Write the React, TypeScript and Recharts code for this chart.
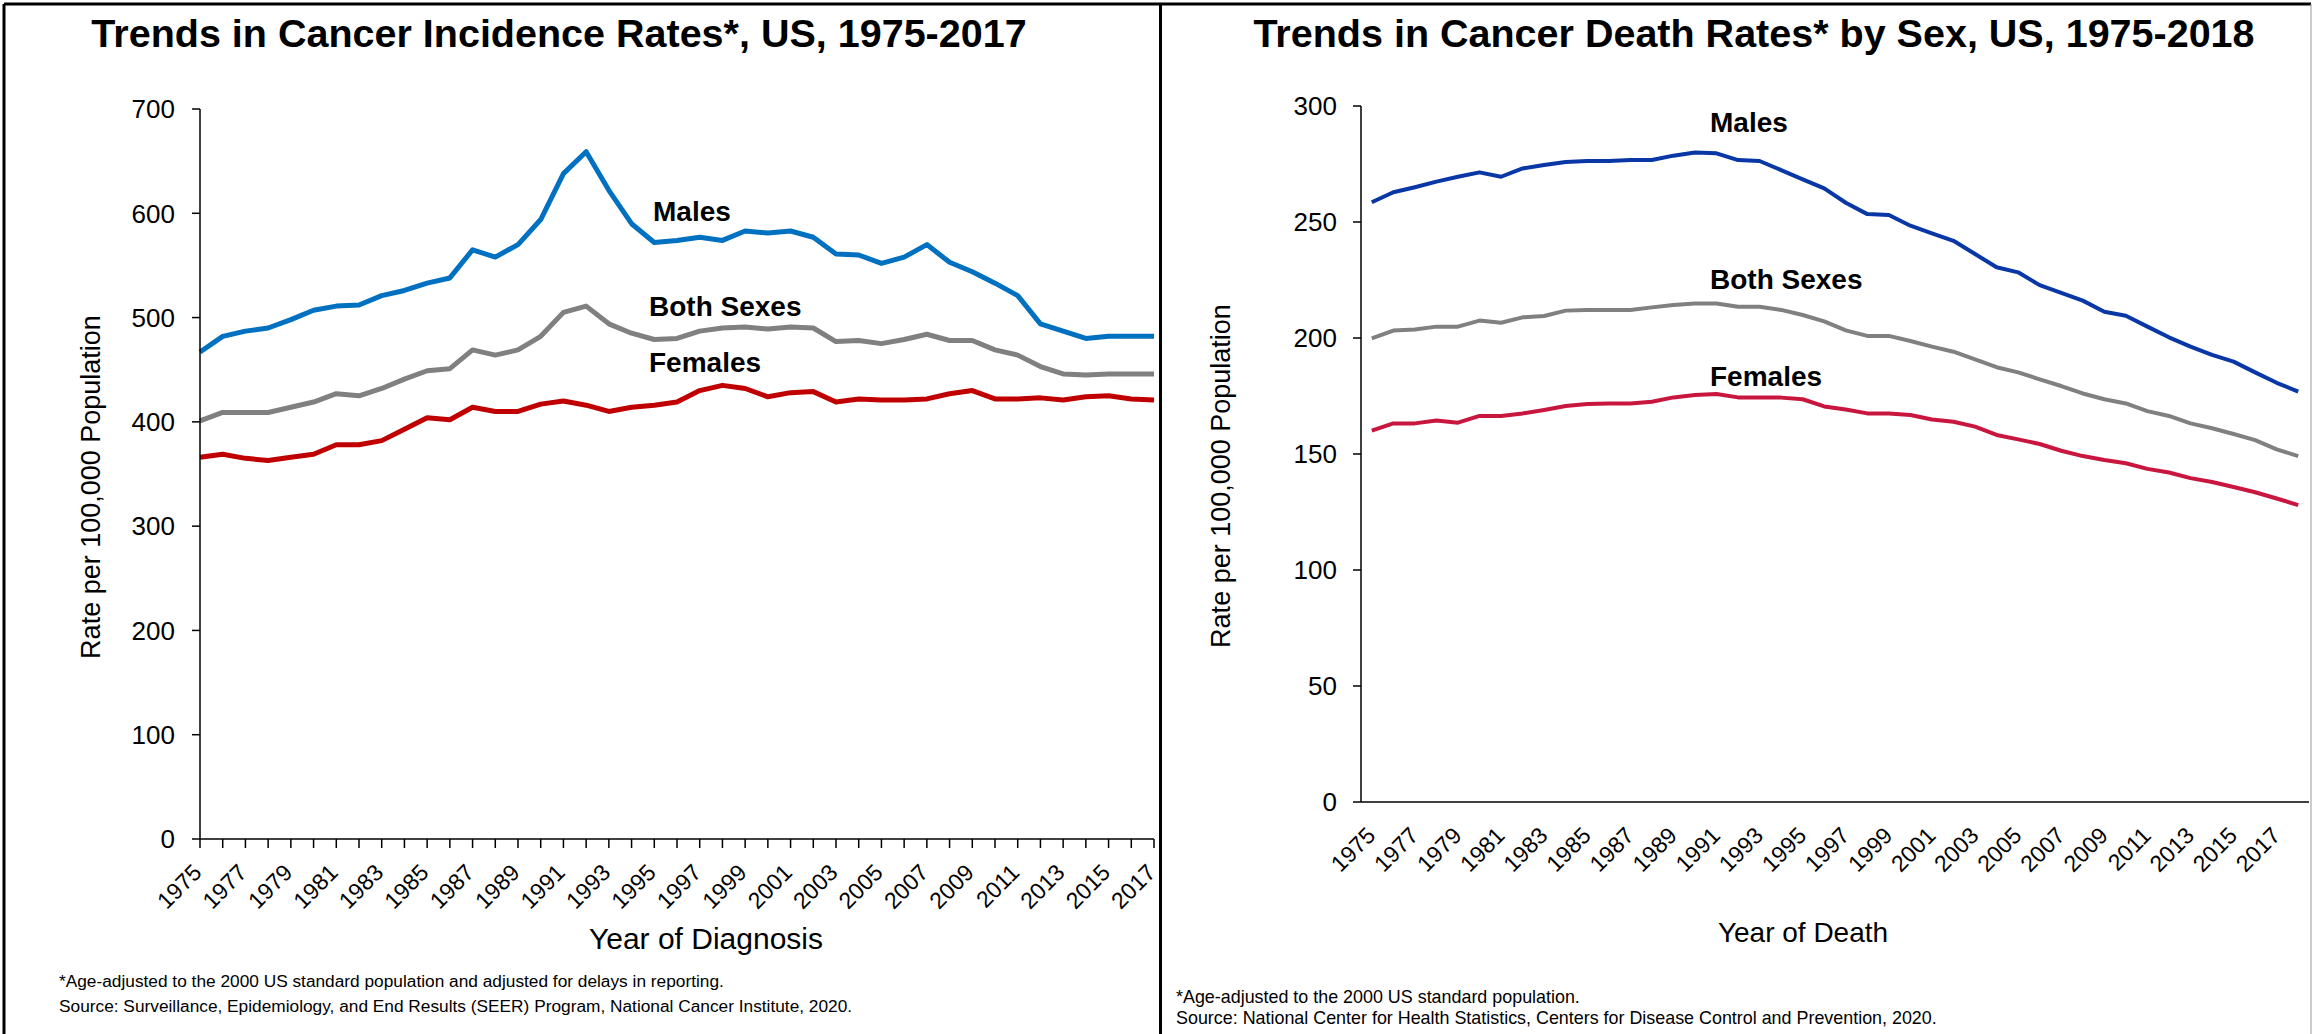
import React from 'react';
import { LineChart, Line, XAxis, YAxis } from 'recharts';

const FONT = "'Liberation Sans', Arial, Helvetica, sans-serif";

// incidence, 1975-2017
const incYears = [
  1975, 1976, 1977, 1978, 1979, 1980, 1981, 1982, 1983, 1984, 1985, 1986, 1987, 1988, 1989,
  1990, 1991, 1992, 1993, 1994, 1995, 1996, 1997, 1998, 1999, 2000, 2001, 2002, 2003, 2004,
  2005, 2006, 2007, 2008, 2009, 2010, 2011, 2012, 2013, 2014, 2015, 2016, 2017,
];
const incMales = [
  467, 482, 487, 490, 498, 507, 511, 512, 521, 526, 533, 538, 565, 558, 570,
  594, 638, 659, 622, 590, 572, 574, 577, 574, 583, 581, 583, 577, 561, 560,
  552, 558, 570, 553, 544, 533, 521, 494, 487, 480, 482, 482, 482,
];
const incBoth = [
  401, 409, 409, 409, 414, 419, 427, 425, 432, 441, 449, 451, 469, 464, 469,
  482, 505, 511, 494, 485, 479, 480, 487, 490, 491, 489, 491, 490, 477, 478,
  475, 479, 484, 478, 478, 469, 464, 453, 446, 445, 446, 446, 446,
];
const incFemales = [
  366, 369, 365, 363, 366, 369, 378, 378, 382, 393, 404, 402, 414, 410, 410,
  417, 420, 416, 410, 414, 416, 419, 430, 435, 432, 424, 428, 429, 419, 422,
  421, 421, 422, 427, 430, 422, 422, 423, 421, 424, 425, 422, 421,
];
const incYTicks = [0, 100, 200, 300, 400, 500, 600, 700];
const incXLabels = [
  1975, 1977, 1979, 1981, 1983, 1985, 1987, 1989, 1991, 1993, 1995,
  1997, 1999, 2001, 2003, 2005, 2007, 2009, 2011, 2013, 2015, 2017,
];

// mortality, 1975-2018
const deathYears = [
  1975, 1976, 1977, 1978, 1979, 1980, 1981, 1982, 1983, 1984, 1985, 1986, 1987, 1988, 1989,
  1990, 1991, 1992, 1993, 1994, 1995, 1996, 1997, 1998, 1999, 2000, 2001, 2002, 2003, 2004,
  2005, 2006, 2007, 2008, 2009, 2010, 2011, 2012, 2013, 2014, 2015, 2016, 2017, 2018,
];
const deathMales = [
  258.5, 262.8, 265, 267.4, 269.5, 271.4, 269.5, 273.1, 274.6, 275.9, 276.3, 276.3, 276.7, 276.7, 278.6,
  280, 279.6, 276.7, 276.3, 272.4, 268.4, 264.5, 258.3, 253.4, 253, 248.4, 245.1, 241.9, 236.2, 230.5,
  228.3, 222.8, 219.5, 216.1, 211.3, 209.6, 204.9, 200.3, 196.3, 192.7, 189.8, 185.2, 180.7, 176.9,
];
const deathBoth = [
  199.8, 203.2, 203.7, 204.9, 204.9, 207.5, 206.6, 208.9, 209.5, 211.8, 212.1, 212.1, 212.1, 213.2, 214.2,
  214.9, 214.9, 213.5, 213.5, 212.1, 209.9, 207.2, 203.3, 200.9, 200.9, 198.7, 196.3, 194.1, 190.8, 187.4,
  185.2, 182.2, 179.3, 176.1, 173.6, 171.8, 168.5, 166.4, 163.2, 161.1, 158.6, 156, 152, 149.1,
];
const deathFemales = [
  160.1, 163.2, 163.2, 164.4, 163.5, 166.4, 166.4, 167.5, 169, 170.7, 171.6, 171.8, 171.8, 172.5, 174.4,
  175.4, 175.9, 174.4, 174.4, 174.3, 173.6, 170.5, 169.2, 167.5, 167.5, 166.8, 164.9, 163.9, 161.8, 158.2,
  156.3, 154.3, 151.4, 149.1, 147.4, 146, 143.6, 142, 139.6, 137.9, 135.8, 133.5, 130.8, 128,
];
const deathYTicks = [0, 50, 100, 150, 200, 250, 300];
const deathXLabels = incXLabels;

const incData = incYears.map((year, i) => ({
  year,
  males: incMales[i],
  both: incBoth[i],
  females: incFemales[i],
}));

const deathData = deathYears.map((year, i) => ({
  year,
  males: deathMales[i],
  both: deathBoth[i],
  females: deathFemales[i],
}));

// tick marks sit between the years on the mortality chart
const deathBounds = [...deathYears.map((y) => y - 0.5), deathYears[deathYears.length - 1] + 0.5];

const axisStyle = { stroke: '#000', strokeWidth: 1.5 };
const yTickStyle = { fontSize: 26, fill: '#000', fontFamily: FONT };

const YearTick = (props: any) => {
  const { x, y, payload, labels, dx, dy } = props;
  if (!labels.includes(payload.value)) return <g />;
  const tx = x + dx;
  const ty = y + dy;
  return (
    <text
      x={tx}
      y={ty}
      transform={`rotate(-45 ${tx} ${ty})`}
      textAnchor="end"
      fontSize={23}
      fill="#000"
      fontFamily={FONT}
    >
      {payload.value}
    </text>
  );
};

const lineProps = {
  type: 'linear' as const,
  dot: false,
  activeDot: false,
  isAnimationActive: false,
  strokeLinejoin: 'round' as const,
};

export default function App() {
  return (
    <div style={{ position: 'relative', width: 2313, height: 1034, background: '#fff', overflow: 'hidden' }}>
      <style>{'body{margin:0}'}</style>

      <div style={{ position: 'absolute', left: 0, top: 0 }}>
        <LineChart width={1160} height={1034} data={incData} margin={{ top: 109, right: 6, bottom: 95, left: 140 }}>
          <XAxis
            dataKey="year"
            type="number"
            domain={[1975, 2017]}
            ticks={incYears}
            interval={0}
            height={100}
            tickSize={9}
            tickMargin={0}
            axisLine={axisStyle}
            tickLine={axisStyle}
            tick={<YearTick labels={incXLabels} dx={3} dy={26} />}
          />
          <YAxis
            domain={[0, 700]}
            ticks={incYTicks}
            interval={0}
            width={60}
            tickSize={8}
            tickMargin={17}
            axisLine={axisStyle}
            tickLine={axisStyle}
            tick={yTickStyle}
          />
          <Line {...lineProps} dataKey="males" stroke="#0070C0" strokeWidth={5} />
          <Line {...lineProps} dataKey="both" stroke="#808080" strokeWidth={5} />
          <Line {...lineProps} dataKey="females" stroke="#C00000" strokeWidth={5} />
        </LineChart>
      </div>

      <div style={{ position: 'absolute', left: 1161, top: 0 }}>
        <LineChart width={1152} height={1034} data={deathData} margin={{ top: 106, right: 4, bottom: 132, left: 140 }}>
          <XAxis
            xAxisId="bounds"
            dataKey="year"
            type="number"
            domain={[1974.5, 2018.5]}
            ticks={deathBounds}
            interval={0}
            height={10}
            tickSize={9}
            axisLine={axisStyle}
            tickLine={axisStyle}
            tick={false}
          />
          <XAxis
            xAxisId="years"
            dataKey="year"
            type="number"
            domain={[1974.5, 2018.5]}
            ticks={deathXLabels}
            interval={0}
            height={90}
            tickSize={0}
            tickMargin={0}
            axisLine={false}
            tickLine={false}
            tick={<YearTick labels={deathXLabels} dx={5} dy={25} />}
          />
          <YAxis
            domain={[0, 300]}
            ticks={deathYTicks}
            interval={0}
            width={60}
            tickSize={8}
            tickMargin={16}
            axisLine={axisStyle}
            tickLine={axisStyle}
            tick={yTickStyle}
          />
          <Line {...lineProps} xAxisId="years" dataKey="males" stroke="#0A37A6" strokeWidth={4} />
          <Line {...lineProps} xAxisId="years" dataKey="both" stroke="#808080" strokeWidth={4} />
          <Line {...lineProps} xAxisId="years" dataKey="females" stroke="#C9163E" strokeWidth={4} />
        </LineChart>
      </div>

      <svg
        width={2313}
        height={1034}
        style={{ position: 'absolute', left: 0, top: 0, pointerEvents: 'none' }}
        fontFamily={FONT}
      >
        <line x1={4} y1={4} x2={2311} y2={4} stroke="#000" strokeWidth={3} />
        <line x1={4} y1={4} x2={4} y2={1034} stroke="#000" strokeWidth={3} />
        <line x1={1160.5} y1={4} x2={1160.5} y2={1034} stroke="#000" strokeWidth={3} />
        <line x1={2311} y1={4} x2={2311} y2={1034} stroke="#999" strokeWidth={1} />

        <text x={559} y={47} textAnchor="middle" fontSize={39.5} fontWeight="bold">
          Trends in Cancer Incidence Rates*, US, 1975-2017
        </text>
        <text x={1754} y={47} textAnchor="middle" fontSize={39.5} fontWeight="bold">
          Trends in Cancer Death Rates* by Sex, US, 1975-2018
        </text>

        <text x={653} y={221} fontSize={28} fontWeight="bold">Males</text>
        <text x={649} y={316} fontSize={28} fontWeight="bold">Both Sexes</text>
        <text x={649} y={372} fontSize={28} fontWeight="bold">Females</text>

        <text x={1710} y={132} fontSize={28} fontWeight="bold">Males</text>
        <text x={1710} y={289} fontSize={28} fontWeight="bold">Both Sexes</text>
        <text x={1710} y={386} fontSize={28} fontWeight="bold">Females</text>

        <text x={100} y={487} textAnchor="middle" fontSize={27} transform="rotate(-90 100 487)">
          Rate per 100,000 Population
        </text>
        <text x={1230} y={476} textAnchor="middle" fontSize={27} transform="rotate(-90 1230 476)">
          Rate per 100,000 Population
        </text>

        <text x={706} y={949} textAnchor="middle" fontSize={30}>Year of Diagnosis</text>
        <text x={1803} y={942} textAnchor="middle" fontSize={28}>Year of Death</text>

        <text x={59} y={987} fontSize={17.3}>
          *Age-adjusted to the 2000 US standard population and adjusted for delays in reporting.
        </text>
        <text x={59} y={1012} fontSize={17.3}>
          Source: Surveillance, Epidemiology, and End Results (SEER) Program, National Cancer Institute, 2020.
        </text>
        <text x={1176} y={1003} fontSize={17.9}>
          *Age-adjusted to the 2000 US standard population.
        </text>
        <text x={1176} y={1024} fontSize={17.9}>
          Source: National Center for Health Statistics, Centers for Disease Control and Prevention, 2020.
        </text>
      </svg>
    </div>
  );
}
